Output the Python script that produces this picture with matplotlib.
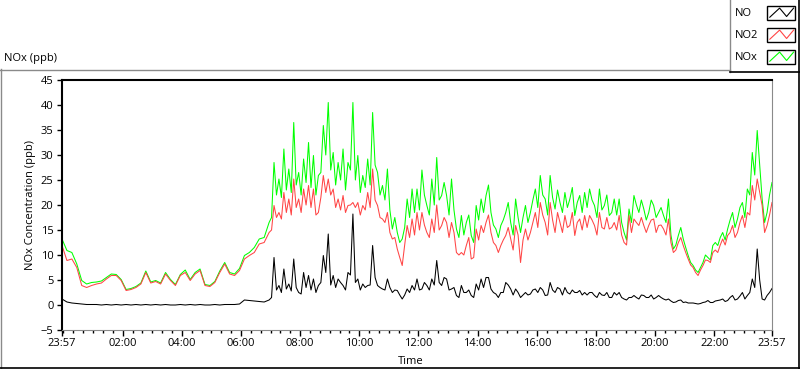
import numpy as np
import matplotlib.pyplot as plt
from matplotlib.patches import Rectangle

plt.rcParams['font.family'] = ['Open Sans', 'DejaVu Sans']
plt.rcParams['font.size'] = 8

# minutes after 23:57: every 10 min through the quiet night, every 5 min after 07:02
minutes = np.concatenate([np.arange(0, 421, 10), np.arange(425, 1441, 5)])

nox = [13.2, 10.9, 10.5, 8.2, 4.9, 4.2, 4.5, 4.6, 4.8, 5.5, 6.2, 6.1,
       5.1, 3.1, 3.3, 3.7, 4.4, 6.8, 4.6, 4.9, 4.4, 6.5, 5.1, 4.1,
       6.1, 7.0, 5.1, 6.5, 7.2, 4.1, 3.9, 4.7, 6.8, 8.5, 6.5, 6.2,
       7.3, 9.9, 10.5, 11.5, 13.2, 13.5, 16.5,
       17.5, 28.5, 22.0, 25.2, 21.5, 31.2, 23.0, 27.2, 22.5, 36.5, 24.0, 26.5,
       22.0, 29.2, 24.5, 32.5, 23.5, 29.9, 22.0, 25.9, 26.5, 35.9, 30.0, 40.5,
       27.0, 30.5, 24.0, 28.5, 25.0, 31.2, 23.0, 28.5, 27.0, 40.5, 25.0, 29.9,
       22.5, 25.9, 23.5, 29.2, 24.0, 38.5, 28.0, 26.5, 22.0, 23.9, 21.0, 27.2,
       19.0, 15.2, 17.5, 14.5, 12.5, 13.2, 15.5, 21.2, 17.5, 23.2, 18.5, 23.2,
       19.0, 27.0, 22.0, 19.9, 18.0, 25.2, 20.0, 29.5, 21.0, 21.9, 24.5, 21.9,
       18.0, 25.2, 19.0, 15.2, 13.5, 17.9, 14.0, 16.5, 18.0, 13.9, 12.5, 19.9,
       17.0, 21.2, 18.5, 21.9, 24.0, 18.5, 16.0, 15.2, 13.5, 15.9, 17.0, 18.5,
       20.5, 16.5, 14.0, 21.2, 17.5, 14.5, 17.5, 19.9, 16.5, 18.5, 21.0, 23.2,
       19.5, 25.9, 22.0, 21.2, 18.0, 25.9, 21.5, 19.2, 23.0, 20.5, 18.5, 22.5,
       19.5, 21.2, 23.5, 17.9, 20.5, 21.9, 18.5, 22.5, 19.5, 23.2, 21.0, 19.9,
       17.5, 23.2, 19.0, 19.9, 22.0, 17.9, 18.5, 21.2, 18.0, 21.2, 16.5, 14.5,
       13.0, 19.2, 16.5, 21.9, 20.0, 18.5, 21.0, 19.2, 17.0, 18.5, 21.0, 19.9,
       17.5, 18.5, 19.5, 17.9, 16.5, 21.2, 14.0, 11.2, 12.0, 13.9, 15.5, 13.2,
       11.5, 9.9, 8.5, 7.9, 7.0, 6.5, 7.5, 8.5, 10.0, 9.5, 9.0, 11.9,
       12.5, 11.9, 13.5, 14.5, 13.0, 15.2, 17.0, 18.5, 15.5, 17.2, 19.5, 20.5,
       17.5, 23.2, 22.0, 30.5, 26.0, 34.9, 28.0, 21.2, 16.5, 18.5, 22.0, 24.5]

no2 = [11.9, 8.9, 9.2, 7.5, 3.9, 3.5, 3.9, 4.2, 4.4, 5.2, 5.9, 5.9,
       4.9, 2.9, 3.1, 3.5, 4.2, 6.5, 4.4, 4.7, 4.2, 6.2, 4.9, 3.9,
       5.9, 6.5, 4.9, 6.2, 6.9, 3.9, 3.7, 4.5, 6.5, 8.2, 6.2, 5.9,
       6.9, 9.2, 9.9, 10.5, 12.2, 12.5, 14.5,
       15.0, 19.9, 17.5, 18.5, 17.2, 22.5, 18.5, 21.2, 18.0, 25.2, 19.5, 21.2,
       18.5, 23.2, 20.0, 23.9, 19.5, 23.2, 18.0, 18.5, 21.5, 25.9, 22.5, 25.2,
       22.0, 23.2, 19.5, 21.2, 19.0, 21.9, 18.5, 19.9, 20.0, 20.5, 19.5, 20.5,
       18.0, 19.9, 19.0, 22.5, 19.5, 27.2, 21.0, 19.9, 17.5, 17.2, 16.5, 18.5,
       14.5, 13.2, 13.5, 11.2, 9.5, 7.9, 12.0, 15.9, 13.5, 17.2, 14.0, 18.5,
       15.0, 18.5, 16.0, 14.5, 13.5, 17.2, 14.5, 20.0, 15.0, 15.9, 17.5, 16.5,
       13.5, 16.5, 14.5, 10.5, 10.0, 10.5, 10.0, 11.9, 13.5, 9.2, 9.5, 15.2,
       13.0, 15.9, 14.5, 16.5, 18.0, 14.5, 12.5, 11.9, 10.5, 11.9, 13.0, 13.9,
       15.5, 13.2, 11.0, 15.9, 14.0, 8.5, 13.0, 15.2, 13.0, 14.5, 16.5, 18.5,
       15.5, 20.5, 18.0, 16.5, 14.0, 20.5, 17.0, 14.5, 18.5, 16.5, 14.5, 17.9,
       15.5, 15.9, 18.5, 13.9, 16.5, 17.2, 15.0, 17.9, 15.5, 17.9, 17.0, 15.9,
       14.0, 18.5, 15.5, 15.2, 17.5, 15.2, 15.5, 16.5, 15.0, 17.9, 14.0, 12.5,
       12.0, 17.9, 14.5, 17.2, 16.5, 15.9, 17.5, 15.9, 14.5, 15.9, 17.0, 17.2,
       14.5, 15.9, 16.0, 15.2, 14.0, 17.2, 12.5, 10.5, 11.0, 12.5, 13.5, 11.9,
       10.5, 9.2, 8.0, 7.5, 6.5, 5.9, 7.0, 7.9, 9.0, 8.9, 8.5, 10.5,
       11.0, 10.5, 12.0, 13.2, 12.0, 13.9, 14.5, 15.9, 13.5, 14.5, 16.5, 17.9,
       15.5, 18.5, 18.0, 23.9, 21.0, 25.2, 22.5, 19.9, 14.5, 15.9, 18.0, 20.5]

no = [1.2, 0.6, 0.4, 0.3, 0.2, 0.1, 0.1, 0.1, 0.0, 0.1, 0.0, 0.1,
      0.0, 0.1, 0.0, 0.1, 0.0, 0.1, 0.0, 0.1, 0.0, 0.1, 0.0, 0.0,
      0.1, 0.0, 0.1, 0.0, 0.1, 0.0, 0.0, 0.1, 0.0, 0.1, 0.1, 0.1,
      0.2, 1.0, 0.9, 0.8, 0.7, 0.6, 1.0,
      1.5, 9.5, 3.0, 3.9, 2.5, 7.2, 3.2, 4.2, 2.8, 9.2, 3.5, 2.5,
      2.2, 6.5, 3.5, 5.9, 3.0, 5.2, 2.5, 3.9, 4.5, 9.9, 6.5, 14.2,
      4.0, 5.9, 3.5, 5.2, 4.5, 3.9, 3.0, 6.5, 6.0, 18.2, 4.5, 5.2,
      3.0, 4.2, 3.5, 3.9, 4.0, 11.9, 5.5, 3.9, 3.5, 3.2, 3.0, 5.2,
      3.5, 2.5, 3.0, 2.9, 2.0, 1.2, 2.0, 3.2, 2.5, 3.9, 3.0, 5.2,
      3.0, 3.2, 4.5, 3.9, 3.0, 5.2, 4.0, 8.9, 4.5, 3.9, 5.5, 5.2,
      3.0, 3.2, 3.5, 1.9, 1.5, 3.9, 2.5, 2.5, 3.0, 1.9, 1.5, 4.2,
      3.0, 5.2, 3.5, 5.5, 5.5, 3.2, 2.5, 2.2, 1.5, 2.5, 2.5, 4.5,
      4.0, 3.2, 2.0, 3.2, 2.5, 1.5, 2.0, 2.5, 2.0, 2.2, 3.0, 3.2,
      2.5, 3.5, 3.0, 1.9, 2.0, 4.5, 3.0, 2.5, 3.5, 3.2, 2.0, 3.5,
      2.5, 2.2, 3.0, 2.5, 2.5, 2.9, 2.0, 2.5, 2.0, 2.5, 2.5, 1.9,
      1.5, 2.5, 2.0, 1.9, 2.5, 1.5, 1.5, 2.5, 2.0, 2.5, 1.5, 1.2,
      1.0, 1.5, 1.5, 1.9, 1.5, 1.2, 2.0, 1.9, 1.5, 1.5, 2.0, 1.2,
      1.5, 1.9, 1.5, 1.2, 1.0, 1.2, 0.8, 0.5, 0.6, 0.9, 1.0, 0.5,
      0.6, 0.4, 0.4, 0.4, 0.3, 0.2, 0.3, 0.5, 0.6, 0.9, 0.5, 0.5,
      0.8, 0.9, 1.0, 1.2, 0.7, 0.9, 1.5, 1.9, 1.0, 1.2, 1.8, 2.5,
      1.2, 1.9, 2.5, 5.2, 3.5, 11.2, 5.0, 1.2, 1.0, 1.9, 2.5, 3.3]

tick_labels = ["23:57", "02:00", "04:00", "06:00", "08:00", "10:00", "12:00",
               "14:00", "16:00", "18:00", "20:00", "22:00", "23:57"]


def offset(label):
    h, m = map(int, label.split(":"))
    return (h * 60 + m - (23 * 60 + 57)) % 1440


ticks = [offset(l) for l in tick_labels]
ticks[-1] = 1440
minor = np.concatenate([[0], np.arange(3, 1441, 20), [1440]])

fig = plt.figure(figsize=(8, 3.69), dpi=100)
ax = fig.add_axes([62 / 800, 39 / 369, 710 / 800, 250 / 369])

ax.plot(minutes, nox, color='#00ff00', lw=0.75)
ax.plot(minutes, no2, color='#ff4545', lw=0.75)
ax.plot(minutes, no, color='black', lw=0.75)

ax.set_xlim(0, 1440)
ax.set_ylim(-5, 45)
ax.set_yticks(range(-5, 46, 5))
ax.set_xticks(ticks)
ax.set_xticklabels(tick_labels)
ax.set_xticks(minor, minor=True)
ax.tick_params(axis='x', which='major', length=4.5, width=1, pad=1.5)
ax.tick_params(axis='x', which='minor', length=2.5, width=1)
ax.tick_params(axis='y', length=3.5, width=1, pad=2.5)

ax.spines['left'].set_linewidth(1.5)
ax.spines['top'].set_linewidth(1.5)
ax.spines['right'].set_color('#8a8a8a')
ax.spines['bottom'].set_color('#8a8a8a')

fig.text(31 / 800, 1 - 205 / 369, 'NOx Concentration (ppb)', rotation=90,
         ha='center', va='center')
fig.text(411 / 800, 1 - 362 / 369, 'Time', ha='center', va='center')
fig.text(4 / 800, 1 - 59 / 369, 'NOx (ppb)', ha='left', va='center')

# panel frame and legend box, in pixel coordinates
fr = fig.add_axes([0, 0, 1, 1], zorder=-1)
fr.set_xlim(0, 800)
fr.set_ylim(369, 0)
fr.axis('off')
fr.plot([0, 730], [69.5, 69.5], color='#8a8a8a', lw=1)
fr.plot([0.5, 0.5], [69, 369], color='#8a8a8a', lw=1)
fr.plot([0, 800], [368, 368], color='black', lw=1.2)
fr.plot([799, 799], [0, 369], color='black', lw=1.2)
fr.plot([730, 730], [0, 72], color='#8a8a8a', lw=1)
fr.plot([730, 800], [72, 72], color='black', lw=1.2)

names = ['NO', 'NO2', 'NOx']
colors = ['black', '#ff4545', '#00ff00']
rows = [13, 35, 57]
zig_x = np.array([0.1, 0.45, 0.7, 0.95])
zig_y = np.array([0.8, 0.15, 0.75, 0.15])
for name, c, yc in zip(names, colors, rows):
    fr.text(735, yc, name, ha='left', va='center')
    fr.add_patch(Rectangle((767, yc - 7), 28, 14, facecolor='white',
                           edgecolor='black', lw=1))
    fr.plot(767 + 28 * zig_x, yc - 7 + 14 * zig_y, color=c, lw=0.8)

fig.savefig('out.png', dpi=100)
